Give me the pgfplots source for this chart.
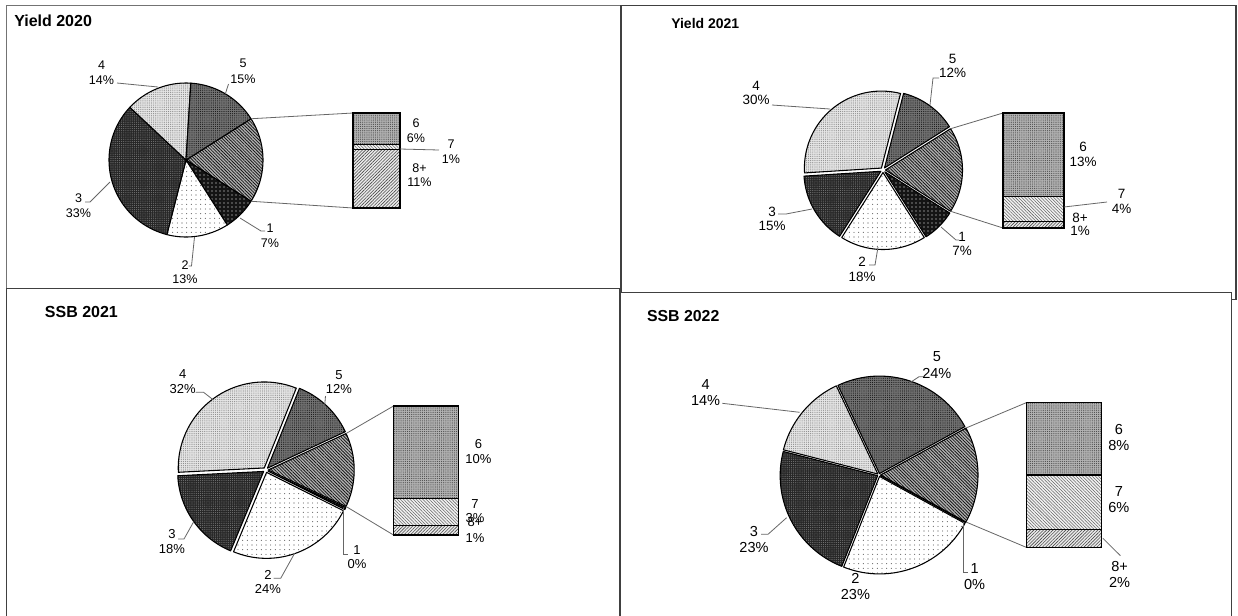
\documentclass[border=0pt]{standalone}
\usepackage{pgfplots}
\pgfplotsset{compat=1.18}
\usepackage{pgfplotstable}
\usepackage{fontspec}
\setmainfont{Liberation Sans}
\usetikzlibrary{patterns.meta}

% ---------- data (percent by age) ----------
\pgfplotstableread{
part value
1 7
2 13
3 33
4 14
5 15
6 6
7 1
8+ 11
}\yieldA
\pgfplotstableread{
part value
1 7
2 18
3 15
4 30
5 12
6 13
7 4
8+ 1
}\yieldB
\pgfplotstableread{
part value
1 0.4
2 24
3 18
4 32
5 12
6 10
7 3
8+ 1
}\ssbA
\pgfplotstableread{
part value
1 0
2 23
3 23
4 14
5 24
6 8
7 6
8+ 2
}\ssbB

\newcommand\fA{\fontsize{9.4}{11}\selectfont}
\newcommand\fB{\fontsize{10.1}{12}\selectfont}
\newcommand\fC{\fontsize{9.75}{11}\selectfont}
\newcommand\fD{\fontsize{10.9}{12}\selectfont}

\tikzset{
 conn/.style={black!60,line width=0.6pt},
 lead/.style={black!60,line width=0.6pt},
 pie1/.style={preaction={fill=black!92},pattern={Dots[radius=0.45pt,distance=3pt]},pattern color=white},
 pie2/.style={preaction={fill=white},pattern={Dots[radius=0.4pt,distance=3.5pt]},pattern color=black!70},
 pie3/.style={preaction={fill=black!85},pattern={Dots[radius=0.45pt,distance=1.6pt]},pattern color=black!55},
 pie4/.style={preaction={fill=black!10},pattern={Dots[radius=0.45pt,distance=1.6pt]},pattern color=black!45},
 pie5/.style={preaction={fill=black!55},pattern={Dots[radius=0.45pt,distance=1.6pt]},pattern color=black!90},
 pieO/.style={preaction={fill=black!30},pattern={Lines[angle=-45,distance=1.7pt,line width=0.6pt]},pattern color=black!90},
 bar6/.style={preaction={fill=black!30},pattern={Dots[radius=0.45pt,distance=1.6pt]},pattern color=black!70},
 bar7/.style={preaction={fill=black!5},pattern={Lines[angle=-45,distance=1.7pt,line width=0.4pt]},pattern color=black!60},
 bar8/.style={preaction={fill=black!8},pattern={Lines[angle=45,distance=1.7pt,line width=0.45pt]},pattern color=black!70},
}

\newcommand\getv[3]{\pgfplotstablegetelem{#2}{value}\of#1\edef#3{\pgfplotsretval}}

% slice outline: centre (#1,#2), radius #3, from angle #4 clockwise to #5
\newcommand\mkslice[5]{%
  \pgfmathsetmacro\SA{#4}%
  \pgfmathsetmacro\SB{#5}%
  \pgfmathsetmacro\SSPAN{\SA-\SB}%
  \pgfmathtruncatemacro\NSTEPS{max(2,ceil(\SSPAN/2))}%
  \xdef\slicep{(axis cs:#1,#2)}%
  \foreach \k in {0,...,\NSTEPS}{%
    \pgfmathsetmacro\ANG{\SA-\SSPAN*\k/\NSTEPS}%
    \pgfmathsetmacro\PX{#1+#3*cos(\ANG)}%
    \pgfmathsetmacro\PY{#2-#3*sin(\ANG)}%
    \xdef\slicep{\slicep -- (axis cs:\PX,\PY)}%
  }%
  \xdef\slicep{\slicep -- cycle}%
}

\newcommand\pieslice[2]{%
  \pgfmathsetmacro\ANEXT{\ACUR-#1/\TOT*360}%
  \pgfmathsetmacro\AMID{(\ACUR+\ANEXT)/2}%
  \pgfmathsetmacro\CCX{\PCX+\PD*cos(\AMID)}%
  \pgfmathsetmacro\CCY{\PCY-\PD*sin(\AMID)}%
  \mkslice{\CCX}{\CCY}{\PR}{\ACUR}{\ANEXT}%
  \edef\tmp{\noexpand\path[#2,draw=black,line width=0.8pt,line join=round] \slicep;}\tmp
  \let\ACUR\ANEXT
}

% pie: table, cx, cy, r, explode
\newcommand\drawpie[5]{%
  \getv{#1}{0}\PVA\getv{#1}{1}\PVB\getv{#1}{2}\PVC\getv{#1}{3}\PVD
  \getv{#1}{4}\PVE\getv{#1}{5}\PVF\getv{#1}{6}\PVG\getv{#1}{7}\PVH
  \def\PCX{#2}\def\PCY{#3}\def\PR{#4}\def\PD{#5}%
  \pgfmathsetmacro\PVO{\PVF+\PVG+\PVH}%
  \pgfmathsetmacro\TOT{\PVA+\PVB+\PVC+\PVD+\PVE+\PVO}%
  \pgfmathsetmacro\ACUR{\PVO/\TOT*180}%
  \let\AH\ACUR
  \pieslice{\PVO}{pieO}\pieslice{\PVA}{pie1}\pieslice{\PVB}{pie2}%
  \pieslice{\PVC}{pie3}\pieslice{\PVD}{pie4}\pieslice{\PVE}{pie5}%
}

% bar of the last pie: x1, x2, ytop, ybottom
\newcommand\drawbar[4]{%
  \pgfmathsetmacro\YSIX{#3+(#4-#3)*\PVF/\PVO}%
  \pgfmathsetmacro\YSEV{\YSIX+(#4-#3)*\PVG/\PVO}%
  \pgfmathsetmacro\CXA{\PCX+\PD+\PR*cos(\AH)}%
  \pgfmathsetmacro\CYA{\PCY-\PR*sin(\AH)}%
  \pgfmathsetmacro\CYB{\PCY+\PR*sin(\AH)}%
  \edef\tmp{\noexpand\draw[conn] (axis cs:\CXA,\CYA) -- (axis cs:#1,#3) (axis cs:\CXA,\CYB) -- (axis cs:#1,#4);
    \noexpand\path[bar6,draw=black,line width=0.8pt] (axis cs:#1,#3) rectangle (axis cs:#2,\YSIX);
    \noexpand\path[bar7,draw=black,line width=0.8pt] (axis cs:#1,\YSIX) rectangle (axis cs:#2,\YSEV);
    \noexpand\path[bar8,draw=black,line width=0.8pt] (axis cs:#1,\YSEV) rectangle (axis cs:#2,#4);}\tmp
}

\newcommand\lab[6]{\node[font=#1,inner sep=0pt] at (axis cs:#2,#3) {#5};\node[font=#1,inner sep=0pt] at (axis cs:#2,#4) {#6};}

\begin{document}
\begin{tikzpicture}
\useasboundingbox (0,0) rectangle (928.5pt,461.25pt);
\begin{axis}[at={(0pt,0pt)},anchor=south west,width=928.5pt,height=461.25pt,scale only axis,
  xmin=0,xmax=1238,ymin=0,ymax=615,y dir=reverse,hide axis,clip=false]

% ---------------- panel frames ----------------
\draw[black!55,line width=0.9pt,fill=white] (axis cs:6.7,5.7) rectangle (axis cs:620.7,288.3);
\draw[black!75,line width=0.9pt,fill=white] (axis cs:621,5.7) rectangle (axis cs:1236,299.3);
\draw[black!75,line width=0.9pt,fill=white] (axis cs:6.5,288.3) rectangle (axis cs:619.3,640);
\draw[black!75,line width=0.9pt,fill=white] (axis cs:620.7,292.3) rectangle (axis cs:1231.5,640);

% ---------------- Yield 2020 ----------------
\node[anchor=west,inner sep=0pt,font=\fontsize{12}{14}\selectfont\bfseries] at (axis cs:14,21) {Yield 2020};
\drawpie{\yieldA}{186}{160}{77}{0}
\drawbar{353}{400}{113}{208}
\draw[lead] (axis cs:117,83) -- (axis cs:158,87);
\draw[lead] (axis cs:228.5,84) -- (axis cs:225.3,94);
\draw[lead] (axis cs:85,202) -- (axis cs:90,202) -- (axis cs:110,182);
\draw[lead] (axis cs:240,218) -- (axis cs:261,231) -- (axis cs:265,231);
\draw[lead] (axis cs:194.5,237) -- (axis cs:191.5,266) -- (axis cs:188.5,266);
\draw[lead] (axis cs:400,149) -- (axis cs:439,150);
\lab{\fA}{243}{63}{79}{5}{15\%}
\lab{\fA}{101.5}{65}{80}{4}{14\%}
\lab{\fA}{78.5}{198}{213}{3}{33\%}
\lab{\fA}{270}{228}{243}{1}{7\%}
\lab{\fA}{185}{265}{279}{2}{13\%}
\lab{\fA}{416}{123}{138}{6}{6\%}
\lab{\fA}{451}{144}{159}{7}{1\%}
\lab{\fA}{419.5}{168}{182}{8+}{11\%}

% ---------------- Yield 2021 ----------------
\node[anchor=west,inner sep=0pt,font=\fontsize{10.5}{12}\selectfont\bfseries] at (axis cs:671,23) {Yield 2021};
\drawpie{\yieldB}{883}{170}{77}{2.5}
\drawbar{1003}{1064}{113}{228}
\draw[lead] (axis cs:939,78) -- (axis cs:933,78) -- (axis cs:930,105);
\draw[lead] (axis cs:772,105) -- (axis cs:830,109);
\draw[lead] (axis cs:778,214) -- (axis cs:786,214) -- (axis cs:812,209);
\draw[lead] (axis cs:941,227) -- (axis cs:956,240) -- (axis cs:959,240);
\draw[lead] (axis cs:878,247) -- (axis cs:875,265) -- (axis cs:869,265);
\draw[lead] (axis cs:1064,207) -- (axis cs:1107,202);
\lab{\fB}{952.5}{59}{73}{5}{12\%}
\lab{\fB}{756}{86}{100}{4}{30\%}
\lab{\fB}{772}{212}{226}{3}{15\%}
\lab{\fB}{962}{237}{251}{1}{7\%}
\lab{\fB}{862}{262}{277}{2}{18\%}
\lab{\fB}{1083}{147}{162}{6}{13\%}
\lab{\fB}{1121.5}{194}{209}{7}{4\%}
\lab{\fB}{1080}{218}{231}{8+}{1\%}

% ---------------- SSB 2021 ----------------
\node[anchor=west,inner sep=0pt,font=\fontsize{12}{14}\selectfont\bfseries] at (axis cs:44.7,311.7) {SSB 2021};
\drawpie{\ssbA}{265.7}{470}{86}{2.5}
\drawbar{393.5}{458.7}{406}{535}
\draw[lead] (axis cs:325.5,396) -- (axis cs:324.5,408);
\draw[lead] (axis cs:195.7,392.3) -- (axis cs:203.6,392.3) -- (axis cs:213.5,400);
\draw[lead] (axis cs:178,539) -- (axis cs:184,539) -- (axis cs:193.7,521.7);
\draw[lead] (axis cs:343,508.3) -- (axis cs:343,554) -- (axis cs:348,554);
\draw[lead] (axis cs:273.6,578.3) -- (axis cs:280.7,578.3) -- (axis cs:294.6,553.3);
\lab{\fC}{339}{375}{389.3}{5}{12\%}
\lab{\fC}{182.7}{374.3}{389}{4}{32\%}
\lab{\fC}{172}{534.3}{549.3}{3}{18\%}
\lab{\fC}{357}{550}{564.3}{1}{0\%}
\lab{\fC}{268}{575}{589.3}{2}{24\%}
\lab{\fC}{478.4}{444.3}{459}{6}{10\%}
\lab{\fC}{475}{504}{518.3}{7}{3\%}
\lab{\fC}{475}{522.3}{538.3}{8+}{1\%}

% ---------------- SSB 2022 ----------------
\node[anchor=west,inner sep=0pt,font=\fontsize{11.9}{14}\selectfont\bfseries] at (axis cs:646.8,315.7) {SSB 2022};
\drawpie{\ssbB}{879}{475}{97.5}{1.5}
\drawbar{1026.2}{1101.7}{402.7}{547.3}
\draw[lead] (axis cs:923,376.7) -- (axis cs:919,376.7) -- (axis cs:909,383.3);
\draw[lead] (axis cs:722.3,403.3) -- (axis cs:799.7,412.3);
\draw[lead] (axis cs:761,534.3) -- (axis cs:768,534.3) -- (axis cs:786.6,517.7);
\draw[lead] (axis cs:963.8,522.3) -- (axis cs:963.8,572.3) -- (axis cs:967.8,572.3);
\draw[lead] (axis cs:1102.9,538.3) -- (axis cs:1120.4,555.7);
\lab{\fD}{936.8}{356.7}{373.3}{5}{24\%}
\lab{\fD}{705.6}{384.3}{400}{4}{14\%}
\lab{\fD}{754}{531}{547.3}{3}{23\%}
\lab{\fD}{974.6}{568.3}{584.3}{1}{0\%}
\lab{\fD}{855.4}{578.3}{594.3}{2}{23\%}
\lab{\fD}{1118.8}{429}{445.7}{6}{8\%}
\lab{\fD}{1118.8}{491.7}{507.7}{7}{6\%}
\lab{\fD}{1119.6}{566.7}{582.3}{8+}{2\%}

\end{axis}
\end{tikzpicture}
\end{document}
